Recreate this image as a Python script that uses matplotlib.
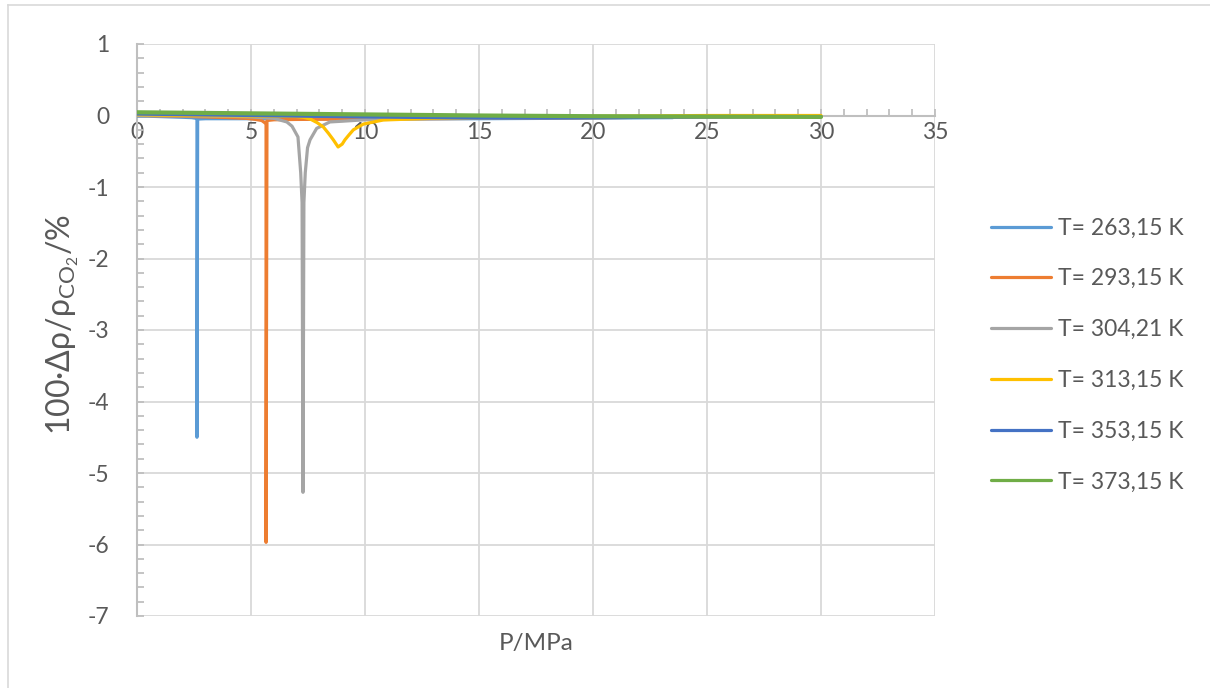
import matplotlib
matplotlib.use("Agg")
import matplotlib.pyplot as plt
from matplotlib.ticker import MultipleLocator
from matplotlib.lines import Line2D

plt.rcParams['font.family'] = ['Lato', 'Open Sans', 'DejaVu Sans']
plt.rcParams['mathtext.default'] = 'regular'
plt.rcParams['axes.unicode_minus'] = False

# data (P in MPa, deviation in %)
p_263 = [0, 0.5, 1, 1.5, 2, 2.4, 2.6, 2.63, 2.63, 2.66, 3, 4, 6, 8, 10, 12, 15, 18, 21, 23.5]
d_263 = [-0.01, -0.01, -0.015, -0.02, -0.025, -0.03, -0.04, -0.05, -4.5, -0.05, -0.045, -0.045,
         -0.045, -0.045, -0.045, -0.045, -0.045, -0.04, -0.035, -0.03]

p_293 = [0, 2, 4, 4.8, 5.2, 5.47, 5.6, 5.66, 5.66, 5.7, 6, 7, 10, 15, 20, 25, 30]
d_293 = [0.0, -0.01, -0.03, -0.04, -0.055, -0.07, -0.1, -0.12, -5.97, -0.07, -0.06, -0.055,
         -0.05, -0.04, -0.03, -0.02, -0.01]

p_304 = [0, 2, 4, 5, 6, 6.57, 6.8, 7.06, 7.18, 7.24, 7.28, 7.32, 7.38, 7.48, 7.59, 7.88,
         8.46, 9, 10, 12, 15, 20, 25, 30]
d_304 = [0.0, -0.005, -0.01, -0.02, -0.04, -0.09, -0.15, -0.3, -0.8, -1.22, -5.27, -1.22,
         -0.8, -0.45, -0.34, -0.18, -0.09, -0.08, -0.06, -0.05, -0.04, -0.03, -0.02, -0.01]

p_313 = [0, 2, 4, 6, 7, 7.3, 7.6, 7.9, 8.17, 8.4, 8.61, 8.82, 9.0, 9.12, 9.3, 9.49,
         9.93, 10.8, 12.85, 15, 20, 25, 30]
d_313 = [0.01, 0.0, -0.005, -0.01, -0.015, -0.025, -0.05, -0.1, -0.16, -0.25, -0.34, -0.44,
         -0.4, -0.34, -0.27, -0.2, -0.12, -0.063, -0.04, -0.03, -0.01, 0.0, 0.0]

p_353 = [0, 5, 10, 15, 18, 20, 25, 30]
d_353 = [0.02, 0.0, -0.02, -0.035, -0.035, -0.03, -0.02, -0.015]

p_373 = [0, 5, 10, 15, 20, 25, 30]
d_373 = [0.045, 0.03, 0.015, 0.0, -0.01, -0.015, -0.02]

labels = ['T= 263,15 K', 'T= 293,15 K', 'T= 304,21 K',
          'T= 313,15 K', 'T= 353,15 K', 'T= 373,15 K']
colors = ['#5B9BD5', '#ED7D31', '#A5A5A5', '#FFC000', '#4472C4', '#70AD47']
series = [(p_263, d_263), (p_293, d_293), (p_304, d_304),
          (p_313, d_313), (p_353, d_353), (p_373, d_373)]

txt = '#595959'
grid_c = '#D9D9D9'
axis_c = '#BFBFBF'

fig = plt.figure(figsize=(12.10, 6.88), dpi=100)
ax = fig.add_axes([137 / 1210, 1 - 616 / 688, 798 / 1210, 572 / 688])

handles = []
for (p, d), lab, c in zip(series, labels, colors):
    lw = 3.0 if c == '#70AD47' else 2.3
    ax.plot(p, d, color=c, lw=lw, solid_capstyle='round', solid_joinstyle='round', zorder=3)
    handles.append(Line2D([], [], color=c, lw=2.3, solid_capstyle='round', label=lab))

ax.set_xlim(0, 35)
ax.set_ylim(-7, 1)
ax.xaxis.set_major_locator(MultipleLocator(5))
ax.xaxis.set_minor_locator(MultipleLocator(1))
ax.yaxis.set_major_locator(MultipleLocator(1))
ax.yaxis.set_minor_locator(MultipleLocator(0.2))

ax.grid(True, which='major', color=grid_c, lw=1.3, zorder=0)
ax.set_axisbelow(True)

for s in ['top', 'right']:
    ax.spines[s].set_visible(False)
ax.spines['bottom'].set_position(('data', 0))
ax.spines['bottom'].set_color(axis_c)
ax.spines['bottom'].set_linewidth(1.5)
ax.spines['left'].set_color(axis_c)
ax.spines['left'].set_linewidth(1.5)

ax.tick_params(axis='x', which='both', direction='in', color=axis_c, width=1.3,
               length=5, labelsize=16.5, labelcolor=txt, pad=5)
ax.tick_params(axis='y', which='both', direction='in', color=axis_c, width=1.3,
               length=5, labelsize=16.5, labelcolor=txt, pad=20)

ax.set_xlabel('P/MPa', fontsize=17.5, color=txt)
ax.xaxis.set_label_coords(0.5, -0.03)
ax.set_ylabel(r'100·Δρ/ρ$_{\mathregular{CO}_{\mathregular{2}}}$/%', fontsize=23, color=txt)
ax.yaxis.set_label_coords(-0.07, 0.51)

fig.legend(handles=handles, loc='center left', bbox_to_anchor=(982 / 1210, 1 - 355 / 688),
           frameon=False, fontsize=16.5, labelcolor=txt, handlelength=2.6,
           handletextpad=0.3, labelspacing=1.3, borderaxespad=0)

# chart area border
fig.add_artist(Line2D([8 / 1210, 8 / 1210], [0, 1 - 5 / 688], color=grid_c, lw=1.2,
                      transform=fig.transFigure))
fig.add_artist(Line2D([8 / 1210, 1], [1 - 5 / 688, 1 - 5 / 688], color=grid_c, lw=1.2,
                      transform=fig.transFigure))

fig.savefig('out.png', dpi=100)
